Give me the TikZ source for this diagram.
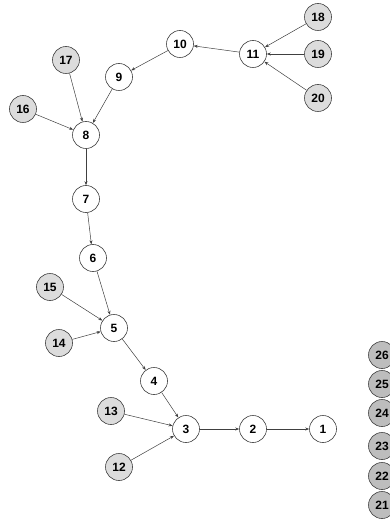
\documentclass[tikz,border=0pt]{standalone}
\usepackage{fontspec}
\setmainfont{Liberation Sans}
\usetikzlibrary{arrows.meta}
\definecolor{leaf}{HTML}{DCDCDC}
\definecolor{isol}{HTML}{BDBDBD}
\begin{document}
\begin{tikzpicture}[x=1pt,y=-1pt,
  vert/.style={circle,draw=black!75,line width=0.6pt,minimum size=27pt,inner sep=0pt,
    font=\fontsize{12}{13}\selectfont\bfseries,fill=white},
  leafv/.style={vert,fill=leaf},
  isov/.style={vert,fill=isol},
  edge/.style={draw=black!75,line width=0.5pt,-{Stealth[length=4pt,width=3pt]}}]
\useasboundingbox (0,0) rectangle (390,529);
% chain of main vertices
\node[vert] (n1) at (323,429) {1};
\node[vert] (n2) at (253,429) {2};
\node[vert] (n3) at (186,429) {3};
\node[vert] (n4) at (154,381) {4};
\node[vert] (n5) at (114,328) {5};
\node[vert] (n6) at (93,258) {6};
\node[vert] (n7) at (86,199) {7};
\node[vert] (n8) at (86,135) {8};
\node[vert] (n9) at (119,77) {9};
\node[vert] (n10) at (180,44) {10};
\node[vert] (n11) at (253,54) {11};
% leaves
\node[leafv] (n12) at (119,467) {12};
\node[leafv] (n13) at (111,411) {13};
\node[leafv] (n14) at (59,343) {14};
\node[leafv] (n15) at (50,287) {15};
\node[leafv] (n16) at (23,109) {16};
\node[leafv] (n17) at (66,60) {17};
\node[leafv] (n18) at (318,17) {18};
\node[leafv] (n19) at (318,54) {19};
\node[leafv] (n20) at (318,98) {20};
% isolated vertices
\node[isov] (n21) at (382,505) {21};
\node[isov] (n22) at (382,476) {22};
\node[isov] (n23) at (382,446) {23};
\node[isov] (n24) at (382,413) {24};
\node[isov] (n25) at (382,384) {25};
\node[isov] (n26) at (382,355) {26};
% edges
\draw[edge] (n2) -- (n1);
\draw[edge] (n3) -- (n2);
\draw[edge] (n4) -- (n3);
\draw[edge] (n13) -- (n3);
\draw[edge] (n12) -- (n3);
\draw[edge] (n5) -- (n4);
\draw[edge] (n6) -- (n5);
\draw[edge] (n15) -- (n5);
\draw[edge] (n14) -- (n5);
\draw[edge] (n7) -- (n6);
\draw[edge] (n8) -- (n7);
\draw[edge] (n9) -- (n8);
\draw[edge] (n17) -- (n8);
\draw[edge] (n16) -- (n8);
\draw[edge] (n10) -- (n9);
\draw[edge] (n11) -- (n10);
\draw[edge] (n18) -- (n11);
\draw[edge] (n19) -- (n11);
\draw[edge] (n20) -- (n11);
\end{tikzpicture}
\end{document}
